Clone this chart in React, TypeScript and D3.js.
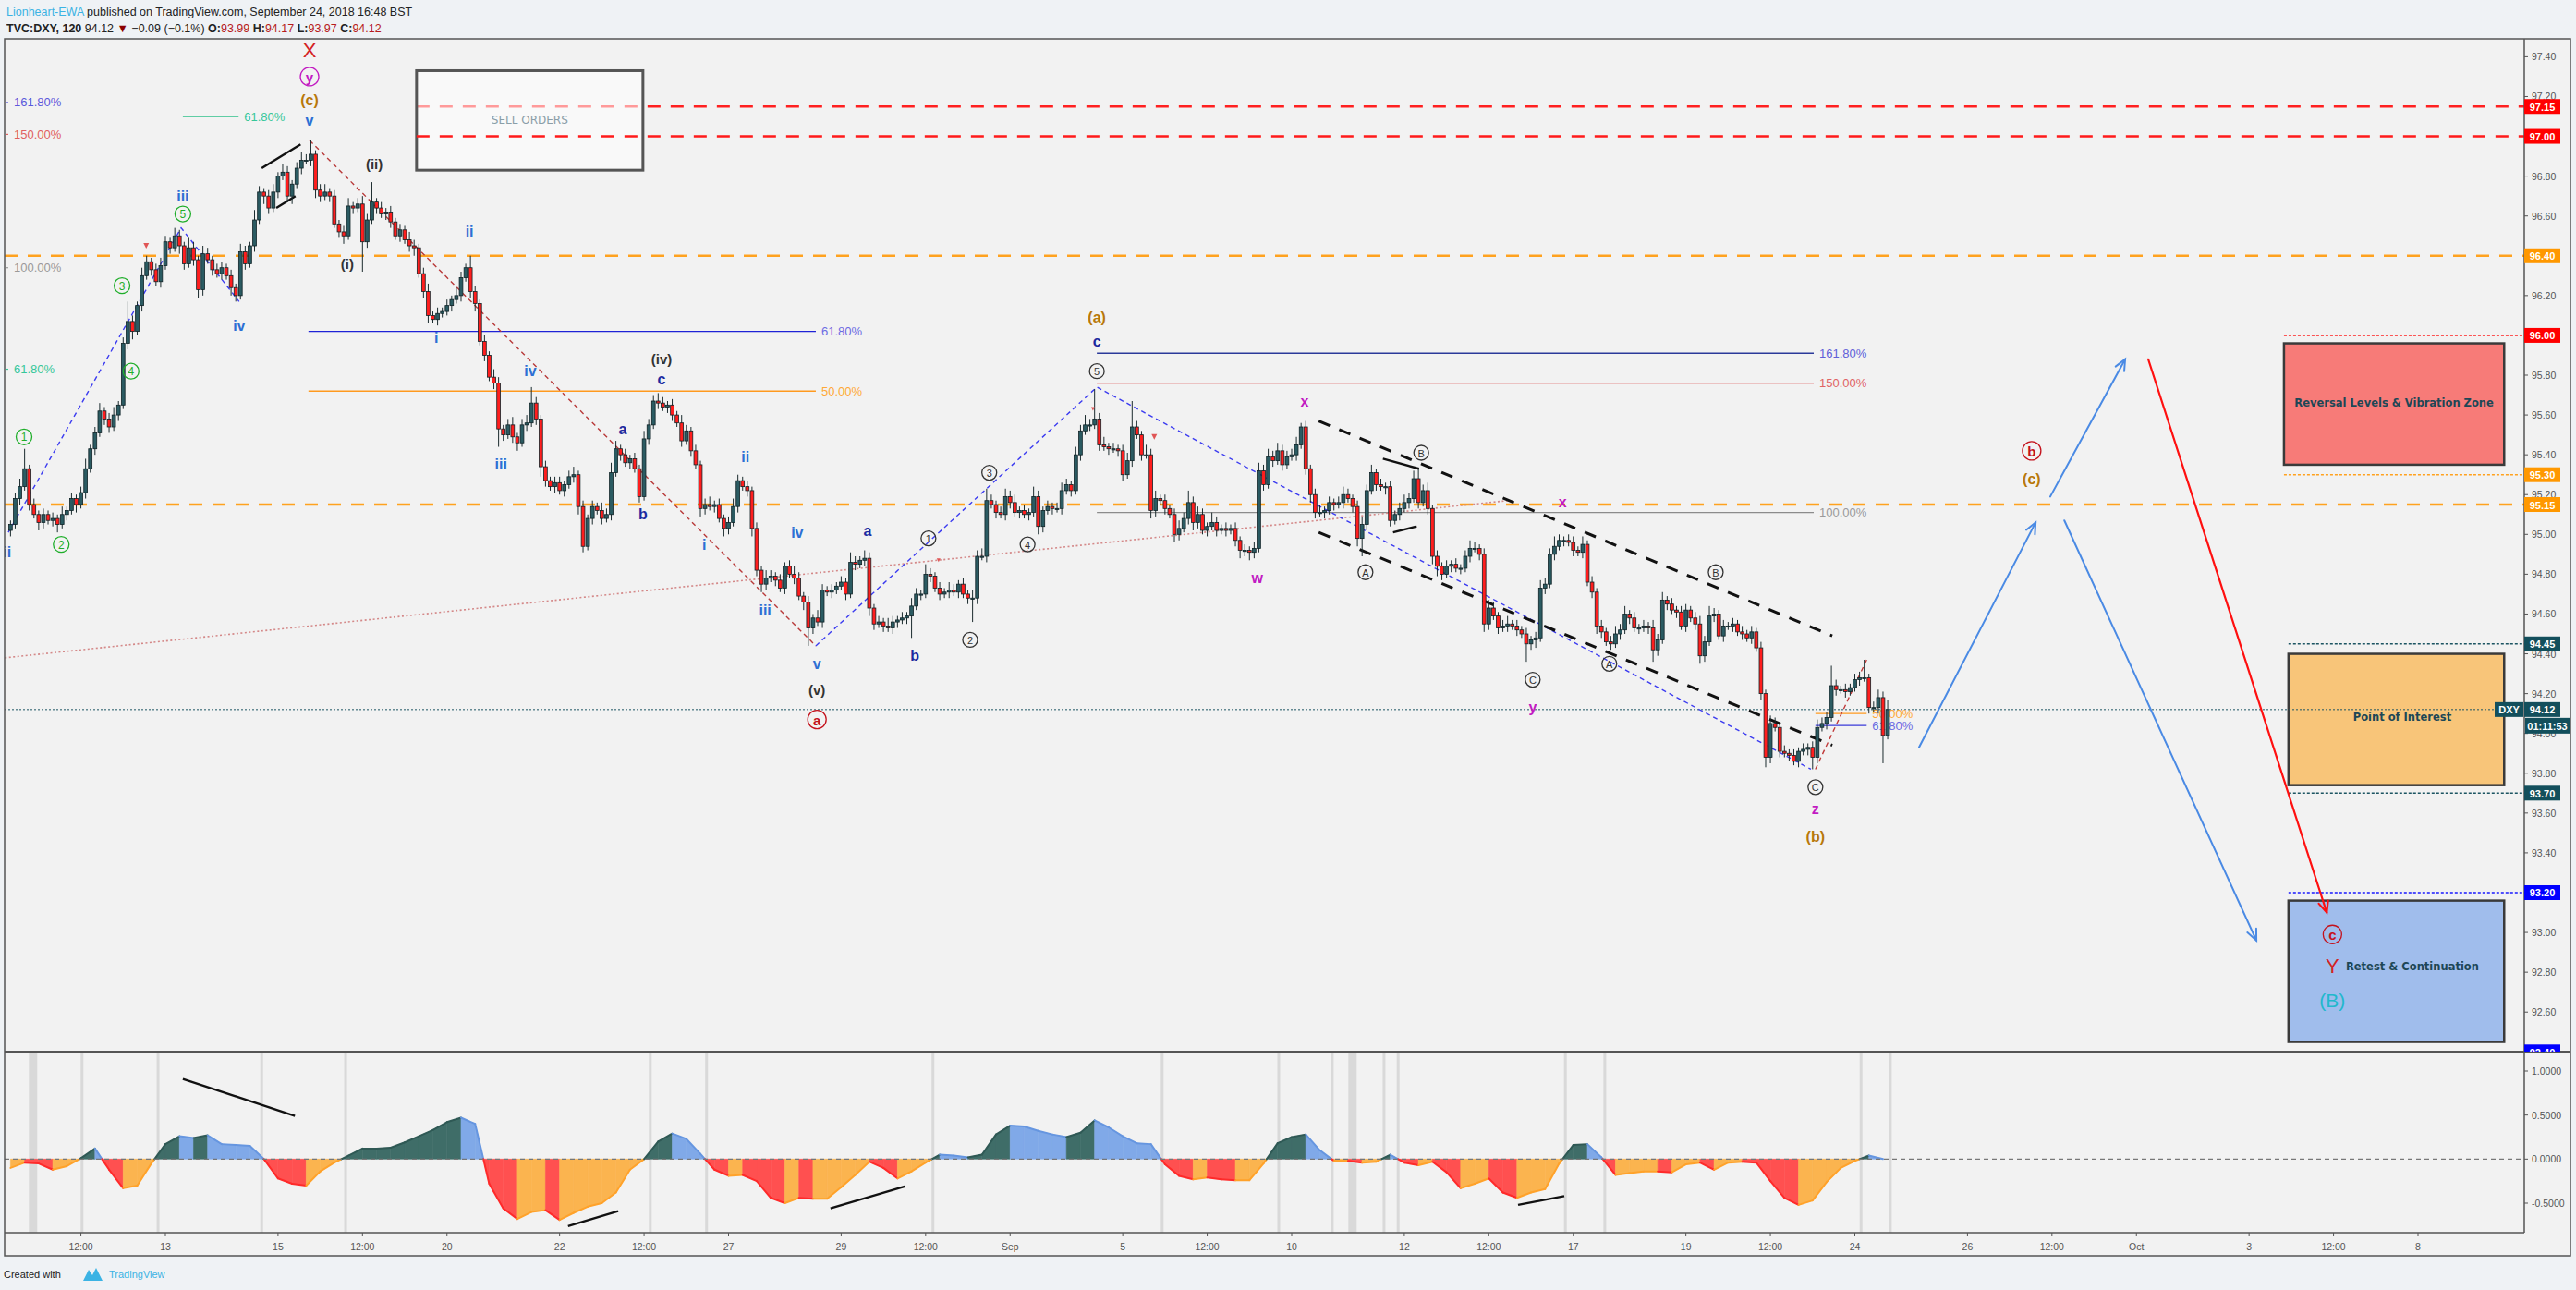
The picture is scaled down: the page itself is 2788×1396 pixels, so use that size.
import React from "react";
import * as d3 from "d3";

// ---------------- DATA ----------------
// 2-hour candles, 12 per trading day. Day index t: 0 = Aug 13 (Mon).
const T0 = -2.75; // trading-day index of first bar
const firstOpen = 95.02;
const closes: number[] = [
  95.05, 95.18, 95.24, 95.33, 95.15, 95.10, 95.06, 95.10, 95.07,
  95.08, 95.05, 95.10, 95.12, 95.18, 95.15, 95.21, 95.33, 95.43, 95.51, 95.62, 95.58,
  95.54, 95.60, 95.65, 95.96, 96.07, 96.02, 96.15, 96.30, 96.37, 96.33, 96.27, 96.35,
  96.47, 96.44, 96.50, 96.45, 96.36, 96.44, 96.38, 96.23, 96.41, 96.38, 96.33, 96.31,
  96.34, 96.30, 96.24, 96.20, 96.42, 96.36, 96.45, 96.58, 96.72, 96.70, 96.64, 96.72,
  96.80, 96.82, 96.70, 96.76, 96.84, 96.88, 96.88, 96.91, 96.73, 96.70, 96.72, 96.70,
  96.56, 96.52, 96.50, 96.65, 96.64, 96.66, 96.47, 96.58, 96.67, 96.64, 96.61, 96.62,
  96.57, 96.50, 96.53, 96.48, 96.45, 96.44, 96.31, 96.22, 96.10, 96.08, 96.11, 96.12,
  96.15, 96.18, 96.20, 96.29, 96.34, 96.22, 96.16, 95.97, 95.90, 95.79, 95.76, 95.53,
  95.50, 95.55, 95.49, 95.46, 95.55, 95.56, 95.66, 95.58, 95.34, 95.27, 95.24, 95.26,
  95.22, 95.25, 95.29, 95.30, 95.14, 94.94, 95.08, 95.14, 95.12, 95.08, 95.10, 95.31,
  95.43, 95.40, 95.36, 95.38, 95.33, 95.19, 95.48, 95.55, 95.67, 95.66, 95.64, 95.65,
  95.60, 95.56, 95.47, 95.52, 95.42, 95.35, 95.13, 95.15, 95.14, 95.15, 95.08, 95.03,
  95.06, 95.14, 95.27, 95.24, 95.22, 95.03, 94.82, 94.75, 94.78, 94.79, 94.77, 94.73,
  94.84, 94.80, 94.78, 94.69, 94.66, 94.53, 94.58, 94.56, 94.72, 94.71, 94.72, 94.74,
  94.76, 94.70, 94.86, 94.85, 94.87, 94.88, 94.63, 94.55, 94.56, 94.54, 94.53, 94.56,
  94.57, 94.58, 94.59, 94.64, 94.70, 94.70, 94.80, 94.79, 94.73, 94.70, 94.71, 94.72,
  94.71, 94.75, 94.70, 94.68, 94.68, 94.89, 94.89, 95.17, 95.15, 95.11, 95.10, 95.19,
  95.16, 95.11, 95.12, 95.10, 95.11, 95.19, 95.04, 95.12, 95.14, 95.13, 95.13, 95.22,
  95.25, 95.22, 95.40, 95.52, 95.55, 95.55, 95.58, 95.45, 95.44, 95.43, 95.43, 95.42,
  95.30, 95.37, 95.54, 95.50, 95.40, 95.40, 95.12, 95.18, 95.17, 95.13, 95.10, 95.00,
  95.03, 95.08, 95.16, 95.06, 95.10, 95.02, 95.04, 95.06, 95.02, 95.03, 95.02, 95.03,
  94.97, 94.92, 94.92, 94.91, 94.93, 95.32, 95.25, 95.39, 95.37, 95.42, 95.35, 95.39,
  95.40, 95.45, 95.54, 95.33, 95.20, 95.11, 95.11, 95.12, 95.16, 95.15, 95.16, 95.20,
  95.18, 95.14, 94.98, 95.05, 95.22, 95.31, 95.25, 95.24, 95.24, 95.07, 95.10, 95.13,
  95.16, 95.18, 95.28, 95.16, 95.22, 95.13, 94.89, 94.84, 94.80, 94.84, 94.85, 94.83,
  94.83, 94.89, 94.93, 94.93, 94.90, 94.55, 94.63, 94.59, 94.53, 94.54, 94.55, 94.54,
  94.52, 94.50, 94.45, 94.47, 94.48, 94.73, 94.75, 94.90, 94.94, 94.97, 94.97, 94.96,
  94.92, 94.91, 94.95, 94.76, 94.71, 94.54, 94.51, 94.46, 94.45, 94.50, 94.52, 94.60,
  94.58, 94.53, 94.53, 94.54, 94.53, 94.42, 94.47, 94.67, 94.65, 94.62, 94.61, 94.54,
  94.62, 94.58, 94.55, 94.39, 94.46, 94.59, 94.60, 94.49, 94.54, 94.54, 94.55, 94.51,
  94.50, 94.48, 94.51, 94.43, 94.20, 93.88, 94.05, 94.03, 93.91, 93.90, 93.89, 93.86,
  93.91, 93.92, 93.93, 93.88, 94.03, 94.05, 94.08, 94.24, 94.22, 94.22, 94.21, 94.23,
  94.27, 94.28, 94.28, 94.13, 94.13, 94.18, 93.99, 94.12,
];
// upper / lower wick lengths in hundredths of a point
const wickUp: number[] = [
  2, 3, 4, 10, 2, 3, 2, 3, 2,
  3, 2, 4, 2, 3, 2, 3, 5, 2, 3, 4, 2,
  3, 4, 2, 3, 10, 3, 2, 4, 3, 2, 3, 4,
  3, 2, 4, 3, 2, 5, 3, 2, 4, 3, 2, 3,
  3, 2, 3, 2, 4, 3, 2, 5, 3, 2, 3, 4,
  2, 4, 3, 2, 3, 4, 3, 7, 2, 3, 4, 2,
  3, 2, 3, 4, 2, 3, 4, 3, 10, 2, 3, 2,
  3, 2, 3, 2, 4, 3, 2, 3, 4, 2, 3, 2,
  3, 2, 4, 3, 2, 6, 3, 2, 3, 2, 4, 3,
  2, 3, 4, 2, 3, 4, 8, 3, 2, 3, 2, 3,
  3, 2, 3, 4, 2, 3, 2, 3, 2, 4, 3, 5,
  4, 2, 3, 2, 3, 2, 4, 3, 3, 4, 3, 2,
  3, 2, 4, 3, 2, 3, 2, 3, 4, 2, 3, 2,
  3, 4, 3, 2, 3, 2, 3, 2, 4, 3, 2, 3,
  2, 3, 4, 3, 2, 3, 2, 4, 3, 2, 3, 2,
  3, 2, 5, 3, 2, 4, 3, 2, 3, 2, 4, 3,
  2, 3, 2, 4, 3, 2, 5, 3, 2, 3, 2, 4,
  3, 2, 3, 2, 4, 3, 4, 6, 3, 2, 3, 4,
  3, 4, 2, 3, 2, 5, 3, 2, 3, 2, 3, 4,
  3, 2, 4, 3, 5, 3, 15, 3, 4, 2, 3, 2,
  3, 4, 13, 3, 2, 5, 3, 4, 2, 3, 2, 3,
  4, 3, 6, 3, 4, 3, 2, 5, 3, 2, 3, 2,
  3, 2, 3, 2, 3, 4, 3, 4, 3, 4, 3, 3,
  3, 4, 2, 3, 2, 3, 4, 2, 3, 2, 3, 4,
  3, 2, 3, 4, 3, 4, 2, 3, 2, 3, 2, 3,
  4, 3, 4, 5, 3, 4, 2, 3, 2, 3, 2, 3,
  2, 3, 4, 3, 2, 3, 4, 3, 2, 3, 4, 2,
  3, 2, 3, 2, 3, 4, 3, 3, 5, 3, 2, 3,
  3, 2, 4, 2, 3, 2, 3, 2, 3, 4, 3, 4,
  2, 3, 2, 3, 2, 4, 3, 4, 2, 3, 2, 3,
  3, 2, 3, 4, 3, 5, 3, 2, 3, 2, 3, 2,
  3, 2, 3, 2, 3, 2, 4, 3, 2, 3, 2, 3,
  2, 3, 2, 3, 4, 3, 3, 10, 3, 2, 3, 2,
  3, 3, 9, 2, 3, 4, 3, 5,
];
const wickDn: number[] = [
  3, 2, 3, 2, 3, 2, 4, 3, 2,
  3, 4, 2, 3, 2, 4, 2, 3, 2, 3, 2, 3,
  3, 2, 3, 2, 3, 4, 2, 3, 2, 3, 2, 3,
  2, 3, 2, 4, 3, 2, 3, 4, 3, 2, 3, 2,
  3, 2, 4, 3, 2, 3, 2, 3, 2, 4, 3, 2,
  3, 2, 3, 4, 2, 3, 2, 3, 4, 3, 2, 3,
  2, 3, 4, 2, 3, 2, 15, 3, 2, 3, 2, 3,
  3, 2, 3, 2, 3, 4, 2, 3, 4, 2, 3, 2,
  2, 3, 2, 3, 2, 3, 4, 2, 3, 2, 3, 9,
  3, 2, 3, 4, 2, 3, 2, 3, 5, 3, 2, 3,
  2, 3, 2, 3, 4, 3, 2, 3, 2, 3, 2, 3,
  2, 3, 2, 3, 2, 3, 2, 3, 2, 3, 2, 3,
  3, 2, 3, 2, 3, 2, 4, 3, 2, 3, 2, 4,
  3, 2, 3, 2, 3, 4, 3, 4, 3, 2, 3, 2,
  3, 2, 3, 2, 4, 9, 3, 2, 3, 2, 3, 2,
  2, 3, 2, 3, 2, 3, 4, 3, 2, 3, 2, 3,
  3, 2, 3, 11, 2, 3, 2, 3, 2, 3, 2, 3,
  2, 3, 2, 3, 12, 3, 2, 3, 2, 3, 2, 3,
  3, 2, 3, 2, 3, 2, 4, 3, 2, 3, 2, 3,
  2, 3, 2, 3, 2, 3, 2, 3, 2, 3, 2, 3,
  3, 2, 3, 2, 3, 2, 4, 3, 2, 3, 2, 4,
  3, 2, 3, 4, 3, 2, 3, 2, 3, 2, 3, 2,
  3, 4, 3, 4, 3, 2, 3, 2, 3, 2, 3, 2,
  2, 3, 2, 3, 4, 3, 2, 3, 2, 3, 2, 3,
  2, 3, 4, 9, 3, 2, 3, 2, 4, 3, 2, 3,
  2, 3, 2, 3, 2, 3, 4, 5, 3, 2, 3, 2,
  3, 2, 3, 2, 3, 4, 3, 2, 3, 2, 3, 2,
  3, 2, 9, 3, 4, 2, 3, 2, 3, 2, 3, 2,
  3, 2, 3, 2, 3, 4, 3, 2, 3, 2, 3, 2,
  3, 2, 3, 2, 3, 6, 3, 2, 3, 2, 3, 2,
  3, 2, 3, 4, 3, 2, 3, 2, 3, 2, 3, 2,
  3, 2, 3, 2, 3, 5, 3, 2, 3, 2, 3, 2,
  3, 2, 3, 6, 3, 2, 3, 2, 3, 2, 3, 2,
  2, 3, 2, 3, 2, 3, 14, 2,
];

// oscillator, one value every 3 bars (6 hours)
const oscValues: number[] = [
  -0.10, -0.04, -0.05, -0.12, -0.08, 0.01, 0.12, -0.12, -0.33, -0.30,
  -0.05, 0.17, 0.26, 0.24, 0.27, 0.17, 0.16, 0.15, 0.0, -0.22,
  -0.28, -0.30, -0.14, -0.04, 0.04, 0.12, 0.12, 0.13, 0.19, 0.26,
  0.33, 0.42, 0.47, 0.40, -0.28, -0.56, -0.68, -0.60, -0.58, -0.69,
  -0.61, -0.54, -0.50, -0.38, -0.12, 0.0, 0.20, 0.29, 0.23, 0.06,
  -0.12, -0.19, -0.18, -0.25, -0.44, -0.50, -0.44, -0.45, -0.45, -0.32,
  -0.18, -0.03, -0.10, -0.22, -0.14, -0.04, 0.05, 0.04, 0.02, 0.05,
  0.28, 0.38, 0.37, 0.32, 0.28, 0.25, 0.30, 0.44, 0.36, 0.26,
  0.18, 0.17, -0.06, -0.19, -0.23, -0.21, -0.23, -0.24, -0.24, -0.05,
  0.18, 0.25, 0.28, 0.10, -0.02, -0.02, -0.04, -0.03, 0.05, -0.04,
  -0.07, -0.03, -0.15, -0.33, -0.28, -0.22, -0.38, -0.44, -0.38, -0.34,
  -0.05, 0.16, 0.17, 0.02, -0.18, -0.16, -0.14, -0.14, -0.15, -0.06,
  -0.04, -0.12, -0.04, -0.03, -0.04, -0.25, -0.44, -0.52, -0.47, -0.26,
  -0.10, -0.02, 0.04, 0.0,
];
const oscMarkT: number[] = [-2.35, -1.48, -0.13, 1.71, 3.2, 8.61, 9.61, 13.63, 17.7, 19.77, 20.72, 21.08, 21.64, 21.89, 24.86, 25.56, 30.11, 30.63];
const oscMarkWide: boolean[] = [true, false, false, false, false, false, false, false, false, false, false, true, false, false, false, false, false, false];

const priceTicks: number[] = [97.4, 97.2, 97.0, 96.8, 96.6, 96.4, 96.2, 96.0, 95.8, 95.6, 95.4, 95.2, 95.0, 94.8, 94.6, 94.4, 94.2, 94.0, 93.8, 93.6, 93.4, 93.2, 93.0, 92.8, 92.6];
const oscTicks: number[] = [1, 0.5, 0, -0.5];
const timeTickT: number[] = [-1.5, 0, 2, 3.5, 5, 7, 8.5, 10, 12, 13.5, 15, 17, 18.5, 20, 22, 23.5, 25, 27, 28.5, 30, 32, 33.5, 35, 37, 38.5, 40];
const timeTickLabels: string[] = ["12:00", "13", "15", "12:00", "20", "22", "12:00", "27", "29", "12:00", "Sep", "5", "12:00", "10", "12", "12:00", "17", "19", "12:00", "24", "26", "12:00", "Oct", "3", "12:00", "8"];

const levelPrices: number[] = [97.15, 97.0, 96.4, 96.0, 95.3, 95.15, 94.45, 94.12, 93.7, 93.2, 92.4];
const levelLabelColors: string[] = ["#ff0000", "#ff0000", "#ff9800", "#ff0000", "#ff9800", "#ff9800", "#134f5c", "#134f5c", "#134f5c", "#0000ff", "#0000ff"];

// wave labels: [day index, price, text, kind]
const waveLabels: [number, number, string, string][] = [
  [2.56, 97.43, "X", "bigred"],
  [2.56, 97.30, "y", "magc"],
  [2.56, 97.18, "(c)", "brown"],
  [2.56, 97.08, "v", "blue"],
  [0.31, 96.70, "iii", "blue"],
  [0.31, 96.61, "5", "greenc"],
  [-0.77, 96.25, "3", "greenc"],
  [-0.61, 95.82, "4", "greenc"],
  [-2.51, 95.49, "1", "greenc"],
  [-1.85, 94.95, "2", "greenc"],
  [-2.81, 94.91, "ii", "blue"],
  [1.31, 96.05, "iv", "blue"],
  [3.71, 96.86, "(ii)", "dark"],
  [3.23, 96.36, "(i)", "dark"],
  [5.4, 96.52, "ii", "blue"],
  [4.81, 95.99, "i", "blue"],
  [6.48, 95.82, "iv", "blue"],
  [5.96, 95.35, "iii", "blue"],
  [8.12, 95.53, "a", "navy"],
  [8.48, 95.10, "b", "navy"],
  [8.81, 95.88, "(iv)", "dark"],
  [8.81, 95.78, "c", "navy"],
  [10.3, 95.39, "ii", "blue"],
  [9.57, 94.95, "i", "blue"],
  [11.22, 95.01, "iv", "blue"],
  [10.65, 94.62, "iii", "blue"],
  [11.57, 94.35, "v", "blue"],
  [11.57, 94.22, "(v)", "dark"],
  [11.57, 94.07, "a", "redc"],
  [12.47, 95.02, "a", "navy"],
  [13.31, 94.39, "b", "navy"],
  [13.55, 94.98, "1", "grayc"],
  [14.29, 94.47, "2", "grayc"],
  [14.63, 95.31, "3", "grayc"],
  [15.31, 94.95, "4", "grayc"],
  [16.54, 95.82, "5", "grayc"],
  [16.54, 95.97, "c", "navy"],
  [16.54, 96.09, "(a)", "brown"],
  [19.39, 94.78, "w", "mag"],
  [20.23, 95.67, "x", "mag"],
  [22.3, 95.41, "B", "grayc"],
  [21.31, 94.81, "A", "grayc"],
  [24.81, 95.16, "x", "mag"],
  [24.28, 94.27, "C", "grayc"],
  [24.28, 94.13, "y", "mag"],
  [25.64, 94.35, "A", "grayc"],
  [27.53, 94.81, "B", "grayc"],
  [29.3, 93.73, "C", "grayc"],
  [29.3, 93.62, "z", "mag"],
  [29.3, 93.48, "(b)", "brown"],
  [33.14, 95.42, "b", "redc"],
  [33.14, 95.28, "(c)", "brown"],
  [38.48, 92.99, "c", "redc"],
  [38.48, 92.83, "Y", "bigred"],
  [38.48, 92.66, "(B)", "cyan"],
];

// fib lines: [t0, t1, price, label, lineColor, textColor]
const fibLines: [number, number, number, string, string, string][] = [
  [0.31, 1.30, 97.10, "61.80%", "#2fc08a", "#36c79a"],
  [2.54, 11.55, 96.02, "61.80%", "#1f22d6", "#6b6be3"],
  [2.54, 11.55, 95.72, "50.00%", "#ff9a1f", "#ffa938"],
  [16.54, 29.27, 95.91, "161.80%", "#2b3a9a", "#6060d8"],
  [16.54, 29.27, 95.76, "150.00%", "#d83434", "#e06464"],
  [16.54, 29.27, 95.11, "100.00%", "#8c8c8c", "#9a9a9a"],
  [29.30, 30.21, 94.10, "50.00%", "#ff9a1f", "#ffa938"],
  [29.30, 30.21, 94.04, "61.80%", "#3a3ad8", "#6b6be3"],
];
// left-edge fib labels: [price, label, color]
const leftFibLabels: [number, string, string][] = [
  [97.17, "161.80%", "#5a5adc"],
  [97.01, "150.00%", "#e06060"],
  [96.34, "100.00%", "#9a9a9a"],
  [95.83, "61.80%", "#36c79a"],
];

const SANS = "'Liberation Sans', Arial, sans-serif";
const VERD = "'DejaVu Sans', Verdana, sans-serif";

function Arrow({ x1, y1, x2, y2, color, w }: { x1: number; y1: number; x2: number; y2: number; color: string; w: number }) {
  const a = Math.atan2(y2 - y1, x2 - x1);
  const len = 13, sp = 0.42;
  const p1 = [x2 - len * Math.cos(a - sp), y2 - len * Math.sin(a - sp)];
  const p2 = [x2 - len * Math.cos(a + sp), y2 - len * Math.sin(a + sp)];
  return (
    <g stroke={color} strokeWidth={w} fill="none" strokeLinecap="round">
      <line x1={x1} y1={y1} x2={x2} y2={y2} />
      <polyline points={`${p1[0]},${p1[1]} ${x2},${y2} ${p2[0]},${p2[1]}`} />
    </g>
  );
}

function WaveLabel({ cx, cy, s, kind }: { cx: number; cy: number; s: string; kind: string }) {
  const circ = (stroke: string, fill: string, r: number, fs: number, fw: string) => (
    <g>
      <circle cx={cx} cy={cy} r={r} fill="none" stroke={stroke} strokeWidth={1.3} />
      <text x={cx} y={cy + 0.5} textAnchor="middle" dominantBaseline="central" fontSize={fs} fontWeight={fw} fill={fill} fontFamily={SANS}>{s}</text>
    </g>
  );
  const txt = (fill: string, fs: number, fw: string, fam = SANS) => (
    <text x={cx} y={cy} textAnchor="middle" dominantBaseline="central" fontSize={fs} fontWeight={fw} fill={fill} fontFamily={fam}>{s}</text>
  );
  switch (kind) {
    case "greenc": return circ("#1fae2a", "#1fae2a", 8.5, 12, "normal");
    case "grayc": return circ("#333", "#333", 8, 11, "normal");
    case "redc": return circ("#c4121c", "#c4121c", 10, 15, "bold");
    case "magc": return circ("#c21bc2", "#c21bc2", 10, 15, "bold");
    case "bigred": return txt("#d42222", 22, "normal");
    case "blue": return txt("#2d6fd4", 16, "bold");
    case "navy": return txt("#1c2aa0", 16, "bold");
    case "dark": return txt("#333", 15, "bold");
    case "brown": return txt("#b8780a", 16, "bold");
    case "mag": return txt("#c21bc2", 16, "bold");
    case "cyan": return txt("#22b8cc", 21, "normal");
    default: return txt("#333", 14, "normal");
  }
}

export default function App() {
  const L = 5, AX = 2732, TOP = 42, SEP = 1138, OB = 1334, FR = 2782, FB = 1359;
  const x = d3.scaleLinear().domain([0, 40]).range([179, 2617]);
  const y = d3.scaleLinear().domain([92.4, 97.4]).range([1138.3, 61.4]);
  const yo = d3.scaleLinear().domain([-0.5, 1]).range([1302, 1159]);
  const bt = (i: number) => T0 + i / 12;
  const bodyW = 3.8;

  // candles
  const candles = closes.map((c, i) => {
    const o = i === 0 ? firstOpen : closes[i - 1];
    const top = Math.max(o, c), bot = Math.min(o, c);
    const hi = top + (wickUp[i] ?? 2) / 100;
    const lo = bot - (wickDn[i] ?? 2) / 100;
    const cx = x(bt(i));
    const up = c >= o;
    const yt = y(top), yb = y(bot);
    return (
      <g key={i}>
        <line x1={cx} x2={cx} y1={y(hi)} y2={y(lo)} stroke="#1b2b2e" strokeWidth={1} />
        <rect x={cx - bodyW / 2} y={yt} width={bodyW} height={Math.max(1.2, yb - yt)} fill={up ? "#2b5b62" : "#ff1e1e"} stroke="#0f2226" strokeWidth={0.8} />
      </g>
    );
  });

  // oscillator pieces
  const pieces: { t0: number; v0: number; t1: number; v1: number; pos: boolean; rising: boolean }[] = [];
  for (let j = 0; j < oscValues.length - 1; j++) {
    const ta = T0 + (j * 3) / 12, tb = T0 + ((j + 1) * 3) / 12;
    const v0 = oscValues[j], v1 = oscValues[j + 1];
    const rising = v1 >= v0;
    if (v0 * v1 < 0) {
      const f = v0 / (v0 - v1);
      const tm = ta + f * (tb - ta);
      pieces.push({ t0: ta, v0, t1: tm, v1: 0, pos: v0 > 0, rising });
      pieces.push({ t0: tm, v0: 0, t1: tb, v1, pos: v1 > 0, rising });
    } else {
      pieces.push({ t0: ta, v0, t1: tb, v1, pos: v0 + v1 >= 0, rising });
    }
  }
  const oscFill = (p: { pos: boolean; rising: boolean }) => (p.pos ? (p.rising ? "#3f6d68" : "#80a9e8") : (p.rising ? "#fbb44f" : "#ff5050"));
  const oscStroke = (p: { pos: boolean; rising: boolean }) => (p.pos ? (p.rising ? "#2f5955" : "#6696e0") : (p.rising ? "#ffa22a" : "#ff2a2a"));

  const PX = (t: number) => x(t);
  const PY = (p: number) => y(p);

  const dashed = "14,11";

  return (
    <svg width={2788} height={1396} style={{ position: "absolute", left: 0, top: 0, display: "block" }} fontFamily={SANS}>
      <defs>
        <clipPath id="mainClip"><rect x={L} y={TOP} width={AX - L} height={SEP - TOP} /></clipPath>
        <clipPath id="oscClip"><rect x={L} y={SEP} width={AX - L} height={OB - SEP} /></clipPath>
        <clipPath id="axisClip"><rect x={AX} y={TOP} width={FR - AX + 2} height={SEP - TOP} /></clipPath>
      </defs>
      <rect width={2788} height={1396} fill="#eff2f5" />
      <rect x={L} y={TOP} width={FR - L} height={FB - TOP} fill="#f2f2f2" />

      {/* header */}
      <text x={7} y={17} fontSize={12.5} style={{ whiteSpace: "pre" }}>
        <tspan fill="#3bb3e4">Lionheart-EWA</tspan>
        <tspan fill="#222">{" published on TradingView.com, September 24, 2018 16:48 BST"}</tspan>
      </text>
      <text x={7} y={35} fontSize={12.5} fill="#222" style={{ whiteSpace: "pre" }}>
        <tspan fontWeight="bold">TVC:DXY, 120</tspan>
        <tspan>{" 94.12 "}</tspan>
        <tspan fill="#8b0000">▼</tspan>
        <tspan>{" −0.09 (−0.1%) "}</tspan>
        <tspan fontWeight="bold">O:</tspan><tspan fill="#b71c1c">93.99</tspan>
        <tspan fontWeight="bold">{" H:"}</tspan><tspan fill="#b71c1c">94.17</tspan>
        <tspan fontWeight="bold">{" L:"}</tspan><tspan fill="#b71c1c">93.97</tspan>
        <tspan fontWeight="bold">{" C:"}</tspan><tspan fill="#b71c1c">94.12</tspan>
      </text>

      {/* MAIN PANE */}
      <g clipPath="url(#mainClip)">
        {/* full-width levels */}
        <line x1={L} x2={AX} y1={PY(96.4)} y2={PY(96.4)} stroke="#ffa21f" strokeWidth={2.6} strokeDasharray={dashed} />
        <line x1={L} x2={AX} y1={PY(95.15)} y2={PY(95.15)} stroke="#ffa21f" strokeWidth={2.6} strokeDasharray={dashed} />
        <line x1={PX(4.46)} x2={AX} y1={PY(97.15)} y2={PY(97.15)} stroke="#ff2020" strokeWidth={2.4} strokeDasharray={dashed} />
        {/* SELL ORDERS box */}
        <rect x={PX(4.46)} y={PY(97.33)} width={PX(8.48) - PX(4.46)} height={PY(96.83) - PY(97.33)} fill="rgba(255,255,255,0.55)" stroke="#555" strokeWidth={3} />
        <line x1={PX(4.46)} x2={AX} y1={PY(97.0)} y2={PY(97.0)} stroke="#ff1a1a" strokeWidth={2.6} strokeDasharray={dashed} />
        <text x={(PX(4.46) + PX(8.48)) / 2} y={PY(97.08)} textAnchor="middle" dominantBaseline="central" fontSize={12} fill="#8a9ea8" fontFamily={VERD}>SELL ORDERS</text>

        {/* zone levels */}
        <line x1={PX(37.62)} x2={AX} y1={PY(96.0)} y2={PY(96.0)} stroke="#ff2020" strokeWidth={1.6} strokeDasharray="3,2" />
        <line x1={PX(37.62)} x2={AX} y1={PY(95.3)} y2={PY(95.3)} stroke="#ffa21f" strokeWidth={1.6} strokeDasharray="3,2" />
        <line x1={PX(37.7)} x2={AX} y1={PY(94.45)} y2={PY(94.45)} stroke="#1c5563" strokeWidth={1.6} strokeDasharray="3,2" />
        <line x1={PX(37.7)} x2={AX} y1={PY(93.7)} y2={PY(93.7)} stroke="#1c5563" strokeWidth={1.6} strokeDasharray="3,2" />
        <line x1={PX(37.7)} x2={AX} y1={PY(93.2)} y2={PY(93.2)} stroke="#1a1aff" strokeWidth={1.6} strokeDasharray="3,2" />
        <line x1={PX(37.7)} x2={AX} y1={PY(92.4)} y2={PY(92.4)} stroke="#1a1aff" strokeWidth={1.6} strokeDasharray="3,2" />

        {/* boxes */}
        <rect x={PX(37.62)} y={PY(95.96)} width={PX(41.53) - PX(37.62)} height={PY(95.35) - PY(95.96)} fill="#f77b78" stroke="#3a3a3a" strokeWidth={2.5} />
        <text x={(PX(37.62) + PX(41.53)) / 2} y={PY(95.66)} textAnchor="middle" dominantBaseline="central" fontSize={11.5} fontWeight="bold" fill="#1d4756" fontFamily={VERD}>Reversal Levels &amp; Vibration Zone</text>
        <rect x={PX(37.7)} y={PY(94.40)} width={PX(41.53) - PX(37.7)} height={PY(93.74) - PY(94.40)} fill="#f8c579" stroke="#3a3a3a" strokeWidth={2.5} />
        <text x={PX(39.72)} y={PY(94.08)} textAnchor="middle" dominantBaseline="central" fontSize={11.5} fontWeight="bold" fill="#1d4756" fontFamily={VERD}>Point of Interest</text>
        <rect x={PX(37.7)} y={PY(93.16)} width={PX(41.53) - PX(37.7)} height={PY(92.45) - PY(93.16)} fill="#a0bdec" stroke="#3a3a3a" strokeWidth={2.5} />
        <text x={PX(38.72)} y={PY(92.83)} textAnchor="start" dominantBaseline="central" fontSize={11.5} fontWeight="bold" fill="#1d4756" fontFamily={VERD}>Retest &amp; Continuation</text>

        {/* last price line */}
        <line x1={L} x2={AX} y1={PY(94.12)} y2={PY(94.12)} stroke="#1c5563" strokeWidth={1} strokeDasharray="2,2" />

        {/* fib lines */}
        {fibLines.map((f, k) => (
          <g key={"fib" + k}>
            <line x1={PX(f[0])} x2={PX(f[1])} y1={PY(f[2])} y2={PY(f[2])} stroke={f[4]} strokeWidth={1.4} />
            <text x={PX(f[1]) + 6} y={PY(f[2])} dominantBaseline="central" fontSize={13} fill={f[5]}>{f[3]}</text>
          </g>
        ))}
        {leftFibLabels.map((f, k) => (
          <g key={"lf" + k}>
            <line x1={L + 1} x2={L + 4} y1={PY(f[0])} y2={PY(f[0])} stroke={f[2]} strokeWidth={1.2} />
            <text x={L + 10} y={PY(f[0])} dominantBaseline="central" fontSize={13} fill={f[2]}>{f[1]}</text>
          </g>
        ))}

        {/* trend / wave lines */}
        <line x1={PX(-2.85)} y1={PY(94.38)} x2={PX(23.84)} y2={PY(95.17)} stroke="#d48888" strokeWidth={1.6} strokeDasharray="2,2.5" />
        <polyline points={`${PX(-2.79)},${PY(95.01)} ${PX(0.28)},${PY(96.54)} ${PX(1.31)},${PY(96.17)}`} fill="none" stroke="#3b3bf0" strokeWidth={1.4} strokeDasharray="5,4" />
        <line x1={PX(2.56)} y1={PY(96.98)} x2={PX(11.55)} y2={PY(94.44)} stroke="#b83a3a" strokeWidth={1.4} strokeDasharray="5,4" />
        <polyline points={`${PX(11.55)},${PY(94.44)} ${PX(16.54)},${PY(95.74)} ${PX(29.22)},${PY(93.82)}`} fill="none" stroke="#3b3bf0" strokeWidth={1.4} strokeDasharray="5,4" />
        <line x1={PX(20.48)} y1={PY(95.57)} x2={PX(29.6)} y2={PY(94.49)} stroke="#111" strokeWidth={3} strokeDasharray="13,11" />
        <line x1={PX(20.48)} y1={PY(95.01)} x2={PX(29.6)} y2={PY(93.94)} stroke="#111" strokeWidth={3} strokeDasharray="13,11" />
        <line x1={PX(1.71)} y1={PY(96.84)} x2={PX(2.4)} y2={PY(96.96)} stroke="#111" strokeWidth={2.4} />
        <line x1={PX(1.97)} y1={PY(96.64)} x2={PX(2.31)} y2={PY(96.70)} stroke="#111" strokeWidth={2.4} />
        <line x1={PX(21.62)} y1={PY(95.38)} x2={PX(22.26)} y2={PY(95.33)} stroke="#111" strokeWidth={2.4} />
        <line x1={PX(21.8)} y1={PY(95.01)} x2={PX(22.22)} y2={PY(95.04)} stroke="#111" strokeWidth={2.4} />
        <line x1={PX(29.3)} y1={PY(93.82)} x2={PX(30.21)} y2={PY(94.37)} stroke="#c03a3a" strokeWidth={1.4} strokeDasharray="5,4" />

        {/* candles */}
        {candles}

        {/* small markers */}
        {[[-0.34, 96.45, 6], [16.47, 95.63, 4], [17.56, 95.49, 6], [13.73, 94.87, 4]].map((m, k) => (
          <polygon key={"tri" + k} points={`${PX(m[0]) - m[2] / 2},${PY(m[1]) - m[2] / 2} ${PX(m[0]) + m[2] / 2},${PY(m[1]) - m[2] / 2} ${PX(m[0])},${PY(m[1]) + m[2] / 2}`} fill="#e05555" />
        ))}

        {/* projection arrows */}
        <Arrow x1={PX(31.14)} y1={PY(93.93)} x2={PX(33.21)} y2={PY(95.06)} color="#4a8ae4" w={2} />
        <Arrow x1={PX(33.47)} y1={PY(95.19)} x2={PX(34.8)} y2={PY(95.88)} color="#4a8ae4" w={2} />
        <Arrow x1={PX(33.72)} y1={PY(95.07)} x2={PX(37.13)} y2={PY(92.96)} color="#4a8ae4" w={2} />
        <Arrow x1={PX(35.21)} y1={PY(95.88)} x2={PX(38.38)} y2={PY(93.10)} color="#ff1010" w={2.2} />

        {/* wave labels */}
        {waveLabels.map((w, k) => (
          <WaveLabel key={"wl" + k} cx={PX(w[0])} cy={PY(w[1])} s={w[2]} kind={w[3]} />
        ))}
      </g>

      {/* OSC PANE */}
      <g clipPath="url(#oscClip)">
        {oscMarkT.map((t, k) => (
          <rect key={"om" + k} x={PX(t) - (oscMarkWide[k] ? 4.5 : 1.5)} y={SEP} width={oscMarkWide[k] ? 9 : 3} height={OB - SEP} fill="#d9d9d9" />
        ))}
        {pieces.map((p, k) => (
          <polygon key={"op" + k} points={`${PX(p.t0)},${yo(p.v0)} ${PX(p.t1)},${yo(p.v1)} ${PX(p.t1)},${yo(0)} ${PX(p.t0)},${yo(0)}`} fill={oscFill(p)} stroke={oscFill(p)} strokeWidth={0.6} />
        ))}
        {pieces.map((p, k) => (
          <line key={"ol" + k} x1={PX(p.t0)} y1={yo(p.v0)} x2={PX(p.t1)} y2={yo(p.v1)} stroke={oscStroke(p)} strokeWidth={2} strokeLinecap="round" />
        ))}
        <line x1={L} x2={AX} y1={yo(0)} y2={yo(0)} stroke="#777" strokeWidth={1.2} strokeDasharray="5,4" />
        <line x1={PX(0.31)} y1={yo(0.91)} x2={PX(2.3)} y2={yo(0.49)} stroke="#111" strokeWidth={2.4} />
        <line x1={PX(7.15)} y1={yo(-0.76)} x2={PX(8.04)} y2={yo(-0.59)} stroke="#111" strokeWidth={2.4} />
        <line x1={PX(11.81)} y1={yo(-0.56)} x2={PX(13.13)} y2={yo(-0.31)} stroke="#111" strokeWidth={2.4} />
        <line x1={PX(24.02)} y1={yo(-0.52)} x2={PX(24.84)} y2={yo(-0.42)} stroke="#111" strokeWidth={2.4} />
      </g>

      {/* frame lines */}
      <line x1={AX} x2={AX} y1={TOP} y2={OB} stroke="#555" strokeWidth={1.5} />
      <line x1={L} x2={FR} y1={SEP} y2={SEP} stroke="#555" strokeWidth={1.8} />
      <line x1={L} x2={AX} y1={OB} y2={OB} stroke="#555" strokeWidth={1.5} />
      <rect x={L} y={TOP} width={FR - L} height={FB - TOP} fill="none" stroke="#555" strokeWidth={1.5} />

      {/* price axis */}
      {priceTicks.map((p, k) => (
        <g key={"pt" + k}>
          <line x1={AX} x2={AX + 4} y1={PY(p)} y2={PY(p)} stroke="#555" strokeWidth={1} />
          <text x={AX + 8} y={PY(p)} dominantBaseline="central" fontSize={10.5} fill="#555">{p.toFixed(2)}</text>
        </g>
      ))}
      <g clipPath="url(#axisClip)">
        {levelPrices.map((p, k) => (
          <g key={"lv" + k}>
            <rect x={AX} y={PY(p) - 8} width={39} height={16} fill={levelLabelColors[k]} />
            <text x={AX + 19.5} y={PY(p) + 0.5} textAnchor="middle" dominantBaseline="central" fontSize={11} fontWeight="bold" fill="#fff">{p.toFixed(2)}</text>
          </g>
        ))}
        <rect x={AX + 1} y={PY(94.12) + 9} width={48} height={17} fill="#134f5c" />
        <text x={AX + 25} y={PY(94.12) + 18} textAnchor="middle" dominantBaseline="central" fontSize={11} fontWeight="bold" fill="#fff">01:11:53</text>
      </g>
      <rect x={AX - 32} y={PY(94.12) - 8} width={31} height={16} fill="#134f5c" />
      <text x={AX - 16.5} y={PY(94.12) + 0.5} textAnchor="middle" dominantBaseline="central" fontSize={11} fontWeight="bold" fill="#fff">DXY</text>

      {/* osc axis */}
      {oscTicks.map((v, k) => (
        <g key={"ot" + k}>
          <line x1={AX} x2={AX + 4} y1={yo(v)} y2={yo(v)} stroke="#555" strokeWidth={1} />
          <text x={AX + 8} y={yo(v)} dominantBaseline="central" fontSize={10.5} fill="#555">{v.toFixed(4)}</text>
        </g>
      ))}

      {/* time axis */}
      {timeTickT.map((t, k) => (
        <g key={"tt" + k}>
          <line x1={PX(t)} x2={PX(t)} y1={OB} y2={OB + 4} stroke="#555" strokeWidth={1} />
          <text x={PX(t)} y={OB + 15} textAnchor="middle" dominantBaseline="central" fontSize={10.5} fill="#555">{timeTickLabels[k]}</text>
        </g>
      ))}

      {/* footer */}
      <text x={4} y={1383} fontSize={11} fill="#222">Created with</text>
      <path d="M 90 1386 L 96 1374 L 100 1380 L 104 1372 L 111 1386 Z" fill="#3bb3e4" />
      <text x={118} y={1383} fontSize={11} fill="#3bb3e4">TradingView</text>
    </svg>
  );
}
